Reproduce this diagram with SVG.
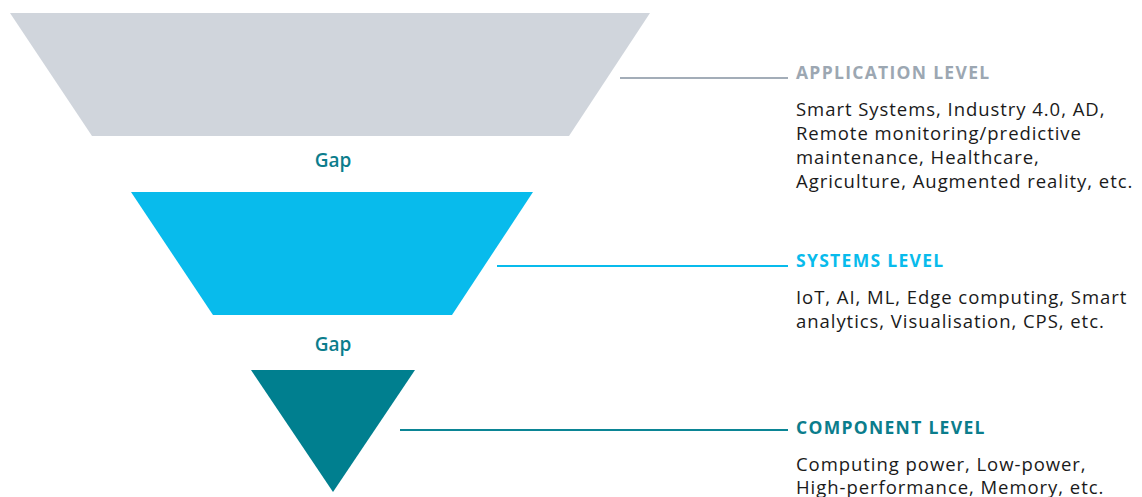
<svg xmlns="http://www.w3.org/2000/svg" width="1142" height="497" viewBox="0 0 1142 497">
<style>
.h{font-family:"Open Sans","Liberation Sans",sans-serif;font-weight:700;font-size:17.5px;letter-spacing:1.3px}
.b{font-family:"Open Sans","Liberation Sans",sans-serif;font-size:18.5px;letter-spacing:0.95px;fill:#1a1a1a}
.gap{font-family:"Open Sans","Liberation Sans",sans-serif;font-weight:600;font-size:19px;fill:#0b7d8c;text-anchor:middle}
.ln{stroke-width:2;fill:none}
</style>
<rect width="1142" height="497" fill="#ffffff"/>
<g id="application">
<polygon points="10,13 650,13 569,136 92,136" fill="#d0d5dc"/>
<text class="h" x="796" y="79" fill="#9ca7b2">APPLICATION LEVEL</text>
<text class="b" x="796" y="116">Smart Systems, Industry 4.0, AD,</text>
<text class="b" x="796" y="140">Remote monitoring/predictive</text>
<text class="b" x="796" y="164">maintenance, Healthcare,</text>
<text class="b" x="796" y="188">Agriculture, Augmented reality, etc.</text>
</g>
<g id="gap1"><text class="gap" x="333" y="167">Gap</text></g>
<g id="systems">
<polygon points="131,192 533,192 452,315 213,315" fill="#08bbec"/>
<text class="h" x="796" y="267" fill="#08bbec">SYSTEMS LEVEL</text>
<text class="b" x="796" y="304">IoT, AI, ML, Edge computing, Smart</text>
<text class="b" x="796" y="328">analytics, Visualisation, CPS, etc.</text>
</g>
<g id="gap2"><text class="gap" x="333" y="351">Gap</text></g>
<g id="component">
<polygon points="251,370 415,370 333,492" fill="#007f8f"/>
<text class="h" x="796" y="434" fill="#0b7d8c">COMPONENT LEVEL</text>
<text class="b" x="796" y="471">Computing power, Low-power,</text>
<text class="b" x="796" y="494">High-performance, Memory, etc.</text>
</g>
<g id="connectors">
<line class="ln" x1="620" y1="78" x2="788" y2="78" stroke="#a3adb8"/>
<line class="ln" x1="497" y1="266" x2="788" y2="266" stroke="#08bbec"/>
<line class="ln" x1="400" y1="430" x2="788" y2="430" stroke="#0b8595"/>
</g>
</svg>
